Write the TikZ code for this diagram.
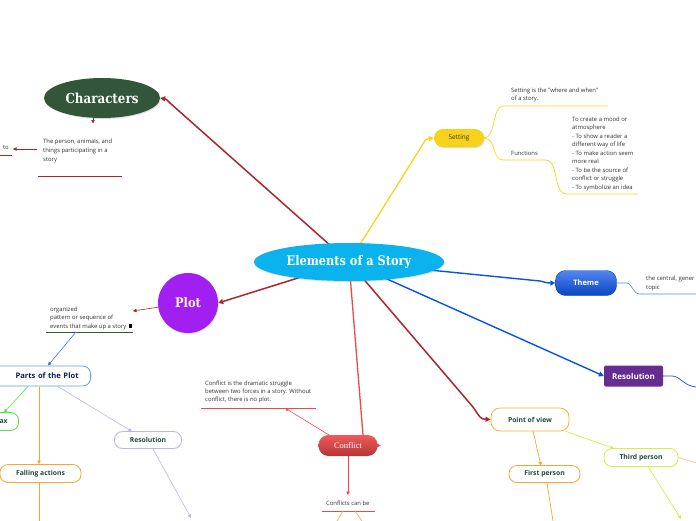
\documentclass[tikz,border=0pt]{standalone}
\usepackage{fontspec}
\setmainfont{Open Sans}
\newfontfamily\titlefont[FakeStretch=0.86]{DejaVu Serif}
\newfontfamily\serfont{Liberation Serif}
\usetikzlibrary{calc,arrows.meta,shapes.geometric,shadows,backgrounds}
\definecolor{hubblue}{HTML}{0BB3EE}
\definecolor{chargreen}{HTML}{33553A}
\definecolor{darkred}{HTML}{A8282C}
\definecolor{setyellow}{HTML}{F8D21A}
\definecolor{lineyellow}{HTML}{F7D51E}
\definecolor{themeblue}{HTML}{0A52E6}
\definecolor{resopurple}{HTML}{662D91}
\definecolor{plotpurple}{HTML}{A11FF0}
\definecolor{confred}{HTML}{F04848}
\definecolor{povgold}{HTML}{F0B92A}
\definecolor{orangeline}{HTML}{F8A52E}
\definecolor{limeline}{HTML}{D2F040}
\definecolor{lavender}{HTML}{BDB5E2}
\definecolor{greenline}{HTML}{55E045}
\definecolor{partsblue}{HTML}{5AA2E2}
\definecolor{labgreen}{HTML}{1E4A3C}
\definecolor{notetext}{HTML}{333333}
\definecolor{peach}{HTML}{F2C9A0}

\tikzset{
  tip/.style={-{Triangle[length=5pt,width=5pt]}},
  smalltip/.style={-{Triangle[length=3.5pt,width=3.5pt]}},
  note/.style={anchor=north west,align=left,inner sep=0pt,text=notetext,
    font=\fontsize{5.9}{8.5}\selectfont},
  title/.style={text=white,font=\titlefont\fontsize{13.2}{15}\selectfont\bfseries},
  topic/.style={draw,line width=0.8pt,rounded corners=8pt,fill=white,text=labgreen,
    font=\fontsize{6.8}{8}\selectfont\bfseries,inner sep=0pt},
  shade/.style={drop shadow={opacity=0.25,shadow xshift=0.8pt,shadow yshift=-1pt}}
}

\begin{document}
\begin{tikzpicture}[x=1pt,y=-1pt]
\useasboundingbox (0,0) rectangle (696,520);
\clip (0,0) rectangle (696,520);

% main topics
\node[ellipse,fill=hubblue,shade,minimum width=190pt,minimum height=38pt,title] (story) at (349,262) {Elements of a Story};
\node[ellipse,fill=chargreen,shade,minimum width=116pt,minimum height=40pt,title,font=\titlefont\fontsize{13.8}{15}\selectfont\bfseries] (chars) at (102,98) {Characters};
\node[fill=setyellow,shade,rounded corners=9pt,minimum width=50pt,minimum height=18pt,inner sep=0pt,
  font=\fontsize{6.5}{8}\selectfont,text=notetext] (setting) at (459,138) {Setting};
\node[top color=themeblue!70!white,bottom color=themeblue!85!black,draw=themeblue!80!black,rounded corners=10pt,
  minimum width=61pt,minimum height=25pt,inner sep=0pt,text=white,font=\fontsize{7.5}{9}\selectfont\bfseries] (theme) at (586,283) {Theme};
\node[fill=resopurple,rounded corners=2pt,minimum width=59pt,minimum height=21pt,inner sep=0pt,
  text=white,font=\fontsize{8}{9}\selectfont\bfseries] (reso) at (633.5,376) {Resolution};
\node[circle,fill=plotpurple,shade,minimum size=60pt,inner sep=0pt,title] (plot) at (188,303) {Plot};
\node[top color=confred!90!white,bottom color=confred!75!black,rounded corners=10pt,minimum width=59pt,minimum height=21pt,
  inner sep=0pt,text=white,font=\serfont\fontsize{8.5}{10}\selectfont] (conflict) at (348,445.5) {Conflict};

% sub topics
\node[topic,draw=povgold,minimum width=78pt,minimum height=23pt,rounded corners=9pt] (pov) at (530,419.5) {Point of view};
\node[topic,draw=orangeline,minimum width=71pt,minimum height=17pt] (first) at (544.5,474) {First person};
\node[topic,draw=limeline,minimum width=74pt,minimum height=18pt] (third) at (641,457.5) {Third person};
\node[topic,draw=partsblue,text=labgreen!60!blue!70!black,font=\fontsize{7.6}{9}\selectfont\bfseries,
  minimum height=20pt,text width=91pt,align=right,inner xsep=12pt,anchor=east] (parts) at (91,376) {Parts of the Plot};
\node[topic,draw=greenline,minimum height=18pt,text width=30pt,align=right,inner xsep=11pt,anchor=east] (climax) at (19,421.5) {ax};
\node[topic,draw=orangeline,minimum width=81pt,minimum height=18pt] (falling) at (40.5,473.5) {Falling actions};
\node[topic,draw=lavender,minimum width=67pt,minimum height=17pt] (plotreso) at (148,440) {Resolution};

% notes
\node[note,font=\fontsize{5.9}{9}\selectfont] (charnote) at (43,138.5) {The person, animals, and\\things participating in a\\story};
\node[note,anchor=north east,font=\fontsize{5.9}{9}\selectfont] (tonote) at (9,145.5) {to};
\node[note] (setnote) at (511,87.5) {Setting is the "where and when"\\of a story.};
\node[note] (funcs) at (511,150.5) {Functions};
\node[note] (funclist) at (572,116.5) {To create a mood or\\atmosphere\\- To show a reader a\\different way of life\\- To make action seem\\more real\\- To be the source of\\conflict or struggle\\- To symbolize an idea};
\node[note,font=\fontsize{5.9}{9}\selectfont] (themenote) at (646,275.5) {the central, gener\\topic};
\node[note] (plotnote) at (50,306.5) {organized\\pattern or sequence of\\events that make up a story};
\node[note,font=\fontsize{5.9}{8.3}\selectfont] (confnote) at (205,380.5) {Conflict is the dramatic struggle\\between two forces in a story. Without\\conflict, there is no plot.};
\node[note] (canbe) at (326,500.5) {Conflicts can be};
\fill[black] (129,324) rectangle (132,328);

% free ends
\coordinate (chbend) at (170,103);
\coordinate (chdot) at (93,123.5);
\coordinate (setbend) at (423,144);
\coordinate (povbend) at (473,407);
\coordinate (theme2) at (640,294);
\coordinate (reso2) at (696,387);
\coordinate (confend) at (363,435);

\begin{scope}[on background layer]
\fill[white] (0,0) rectangle (696,520);
% main connectors
\draw[darkred,line width=1.5pt,tip] (story.center) -- (chbend) .. controls (166,99) .. (chars.east);
\draw[lineyellow,line width=1.3pt,tip] (story.center) -- (setbend) .. controls (426,139) .. (setting.west);
\draw[themeblue,line width=1.4pt,tip] (story.center) -- (540,281) .. controls (548,283) .. (theme.west);
\draw[themeblue,line width=1.4pt,tip] (story.center) -- (reso.west);
\draw[darkred,line width=1.5pt,tip] (story.center) -- (plot.east);
\draw[confred,line width=1.3pt] (story.center) -- (confend);
\draw[darkred,line width=1.5pt,tip] (story.center) -- (povbend) .. controls (481,419) .. (pov.west);
\end{scope}

% characters branch
\draw[darkred,line width=0.8pt,smalltip] (93,118) -- (chdot);
\draw[darkred,line width=0.8pt] (38,176) -- (122,176);
\draw[darkred,line width=0.6pt,smalltip] (37,149) -- (13,149);
\draw[darkred,line width=0.8pt] (0,155) -- (12,155);

% setting branch
\draw[lineyellow,line width=0.7pt] (setting.east) .. controls (496,138) and (492,106) .. (503,106) -- (608,106);
\draw[lineyellow,line width=0.7pt] (setting.east) .. controls (496,138) and (492,160) .. (503,160) -- (545,160)
  .. controls (560,160) and (552,194) .. (567,194) -- (638,194);

% theme and resolution branches
\draw[themeblue!70!white,line width=0.6pt] (theme.east) -- (626,283) .. controls (633,283) and (632,294) .. (theme2) -- (696,294);
\draw[themeblue,line width=0.7pt] (reso.east) -- (672,376) .. controls (680,376) and (684,386) .. (reso2);

% plot branch
\draw[darkred,line width=0.6pt,smalltip] (plot.188) -- (133,311);
\draw[chargreen,line width=0.8pt] (46,332) -- (133,332);
\draw[themeblue!80!white,line width=0.6pt,smalltip] (76,332) -- (48,365.5);
\draw[greenline,line width=0.6pt,smalltip] (28,386.5) -- (4,412.5);
\draw[orangeline,line width=0.7pt,smalltip] (39,386.5) -- (falling.north -| 39,0);
\draw[orangeline,line width=0.7pt] (falling.south -| 39,0) -- (39,521);
\draw[lavender,line width=0.6pt,smalltip] (57,386) -- (132,431.5);
\draw[lavender,line width=0.6pt,smalltip] (153,449) -- (191,518);

% conflict branch
\draw[confred,line width=0.6pt,smalltip] (329,435) -- (285,408);
\draw[confred,line width=0.8pt] (201,408) -- (316,408);
\draw[confred,line width=0.7pt,smalltip] (conflict.south) -- (348,495);
\draw[confred,line width=0.6pt,smalltip] (conflict.east) -- ++(3,0);
\draw[confred,line width=0.8pt] (322,511) -- (375,511);
\draw[orangeline,line width=0.6pt] (343,511) -- (337,521);
\draw[orangeline,line width=0.6pt] (355,511) -- (362,521);

% point of view branch
\draw[orangeline,line width=0.7pt,smalltip] (533,431) -- (541,465.5);
\draw[orangeline,line width=0.7pt] (547,483) -- (553,521);
\draw[limeline,line width=0.7pt,smalltip] (565,431) -- (614,448.5);
\draw[limeline,line width=0.7pt,smalltip] (648,466.5) -- (681,519);
\draw[peach,line width=0.7pt] (third.east) -- (696,463);
\end{tikzpicture}
\end{document}
